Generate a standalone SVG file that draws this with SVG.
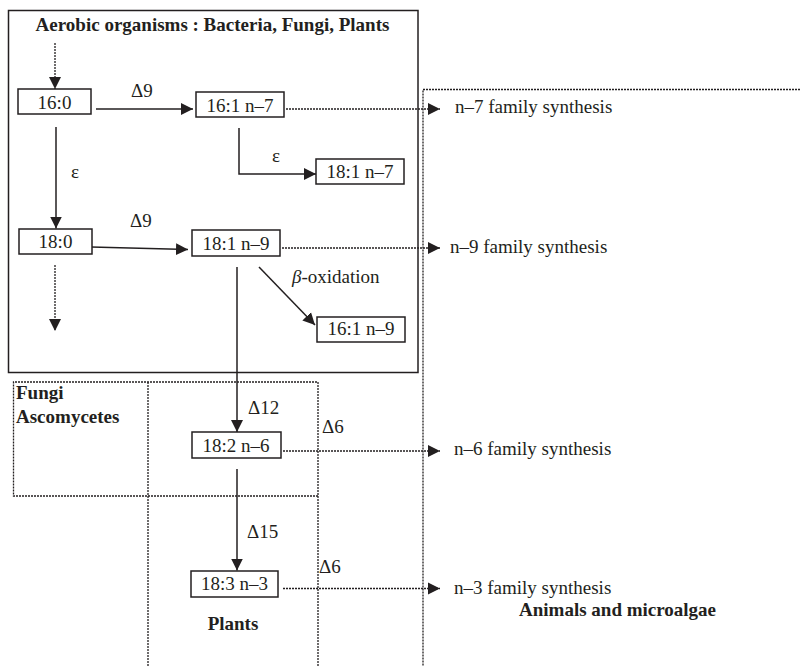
<svg xmlns="http://www.w3.org/2000/svg" width="800" height="666" viewBox="0 0 800 666" font-family="Liberation Serif, DejaVu Serif, serif">
<defs>
<style>
.t{font-size:19px;fill:#231f20}
.b{font-weight:bold}
.m{text-anchor:middle}
.box{fill:#fff;stroke:#231f20;stroke-width:1.5}
.ln{fill:none;stroke:#231f20;stroke-width:1.5}
.dt{fill:none;stroke:#231f20;stroke-width:1.3;stroke-dasharray:2 1}
</style>
<marker id="ah" markerUnits="userSpaceOnUse" markerWidth="13" markerHeight="13" refX="12" refY="6.5" orient="auto" viewBox="0 0 13 13">
<path d="M0,0.5 L12,6.5 L0,12.5 Z" fill="#231f20"/>
</marker>
</defs>
<rect width="800" height="666" fill="#fff"/>

<g id="regions">
<rect x="8.5" y="10.5" width="409.5" height="362" class="ln"/>
<path d="M800,89.5 H423 V666" class="dt"/>
<path d="M318,666 V382 H13.5 V496 H318" class="dt"/>
<path d="M148,382 V666" class="dt"/>
<text x="212.5" y="31" class="t b m">Aerobic organisms : Bacteria, Fungi, Plants</text>
<text x="16" y="399" class="t b">Fungi</text>
<text x="16" y="423" class="t b">Ascomycetes</text>
<text x="233" y="630" class="t b m">Plants</text>
<text x="519" y="616" class="t b">Animals and microalgae</text>
</g>

<g id="connectors">
<path d="M55,43 V89" class="dt" marker-end="url(#ah)"/>
<path d="M96,109 H193" class="ln" marker-end="url(#ah)"/>
<path d="M286,109 H440" class="dt" marker-end="url(#ah)"/>
<path d="M239,128 V174 H316" class="ln" marker-end="url(#ah)"/>
<path d="M56,127 V228.5" class="ln" marker-end="url(#ah)"/>
<path d="M91,247 L188,249.5" class="ln" marker-end="url(#ah)"/>
<path d="M282,248 H440" class="dt" marker-end="url(#ah)"/>
<path d="M55,265 V331" class="dt" marker-end="url(#ah)"/>
<path d="M259,267 L315,325" class="ln" marker-end="url(#ah)"/>
<path d="M237,267 V432" class="ln" marker-end="url(#ah)"/>
<path d="M283,451 H440" class="dt" marker-end="url(#ah)"/>
<path d="M237,469 V570.5" class="ln" marker-end="url(#ah)"/>
<path d="M283,588.5 H440" class="dt" marker-end="url(#ah)"/>
<text x="131" y="97" class="t">Δ9</text>
<text x="272" y="162" class="t">ε</text>
<text x="71" y="178" class="t">ε</text>
<text x="130" y="227" class="t">Δ9</text>
<text x="292" y="283" class="t"><tspan font-style="italic">β</tspan>-oxidation</text>
<text x="248" y="414" class="t">Δ12</text>
<text x="322" y="433" class="t">Δ6</text>
<text x="247" y="538" class="t">Δ15</text>
<text x="319" y="573" class="t">Δ6</text>
<text x="455" y="113" class="t">n–7 family synthesis</text>
<text x="450" y="253" class="t">n–9 family synthesis</text>
<text x="454" y="455" class="t">n–6 family synthesis</text>
<text x="454" y="594" class="t">n–3 family synthesis</text>
</g>

<g id="n16_0"><rect x="18" y="89" width="73" height="25" class="box"/><text x="54.5" y="109" class="t m">16:0</text></g>
<g id="n16_1_n7"><rect x="196" y="92" width="88" height="25" class="box"/><text x="240" y="111.5" class="t m">16:1 n–7</text></g>
<g id="n18_1_n7"><rect x="316" y="159" width="88" height="25" class="box"/><text x="360" y="178" class="t m">18:1 n–7</text></g>
<g id="n18_0"><rect x="19" y="229" width="73" height="25" class="box"/><text x="55.5" y="248" class="t m">18:0</text></g>
<g id="n18_1_n9"><rect x="192" y="230" width="88" height="26" class="box"/><text x="236" y="250" class="t m">18:1 n–9</text></g>
<g id="n16_1_n9"><rect x="317" y="317" width="88" height="25" class="box"/><text x="361" y="335" class="t m">16:1 n–9</text></g>
<g id="n18_2_n6"><rect x="192" y="432" width="89" height="26" class="box"/><text x="236" y="451.5" class="t m">18:2 n–6</text></g>
<g id="n18_3_n3"><rect x="191" y="571" width="87" height="26" class="box"/><text x="234.5" y="590" class="t m">18:3 n–3</text></g>
</svg>
